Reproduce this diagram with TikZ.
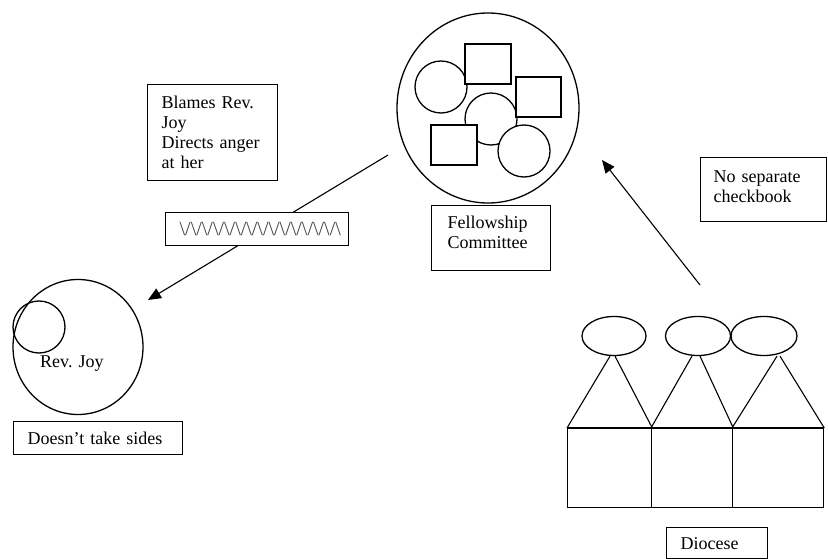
\documentclass[tikz,border=0pt]{standalone}
\usepackage{fontspec}
\setmainfont{Liberation Serif}
\usetikzlibrary{arrows.meta,shapes.geometric}
\begin{document}
\begin{tikzpicture}[x=1pt,y=-1pt,
  outline/.style={draw, line width=1.3pt},
  txt/.style={font=\fontsize{18}{20}\selectfont},
  labelbox/.style={outline, fill=white, rectangle, inner ysep=0pt, align=left, txt, anchor=north west},
  member/.style={outline, fill=white, circle, minimum size=52pt, inner sep=0pt},
  seat/.style={outline, fill=white, rectangle, inner sep=0pt},
  head/.style={outline, ellipse, inner sep=0pt, minimum height=39pt},
  cell/.style={outline, rectangle, inner sep=0pt, minimum height=79pt, anchor=north west},
  link/.style={line width=1.1pt, -{Triangle[length=13pt,width=11pt]}},
  leg/.style={line width=1.1pt},
]
\useasboundingbox (0,0) rectangle (828,559);

% Fellowship Committee: a group of members inside one circle
\node[outline, ellipse, minimum width=182pt, minimum height=190pt, inner sep=0pt] (fc) at (488,108) {};
\node[member] (m1) at (441,87) {};
\node[seat, minimum width=46pt, minimum height=40pt] (s1) at (488,64) {};
\node[member] (m2) at (491,119) {};
\node[seat, minimum width=45pt, minimum height=40pt] (s2) at (538.5,97) {};
\node[seat, minimum width=46pt, minimum height=40pt] (s3) at (454,145) {};
\node[member] (m3) at (524,151) {};
\node[labelbox, minimum width=119pt, minimum height=65pt, text width=87pt, inner xsep=16pt, text depth=32pt] (fclabel) at (431,205) {Fellowship\\Committee};

% Rev. Joy
\node[outline, ellipse, minimum width=130pt, minimum height=135pt, inner sep=0pt] (rj) at (78,347) {};
\node[outline, circle, minimum size=52pt, inner sep=0pt] (rjin) at (39,327) {};
\node[txt, anchor=base west, inner sep=0pt] (rjname) at (40,367) {Rev. Joy};
\node[labelbox, minimum width=169pt, minimum height=33pt, text width=141pt, inner xsep=14pt] (rjlabel) at (13,421) {Doesn’t take sides};

% conflict from the committee towards Rev. Joy
\coordinate (a1s) at (388,155);
\coordinate (a1e) at (148,300);
\draw[link] (a1s) -- (a1e);
\node[labelbox, minimum width=183pt, minimum height=33pt, text width=155pt, inner xsep=14pt, align=center, font=\fontsize{20}{22}\selectfont, text=black!75] (conflict) at (165,212)
  {\textbackslash/\textbackslash/\textbackslash/\textbackslash/\textbackslash/\textbackslash/\textbackslash/\textbackslash/\textbackslash/\textbackslash/\textbackslash/\textbackslash/\textbackslash/\textbackslash/\textbackslash};
\node[labelbox, minimum width=130pt, minimum height=96pt, text width=102pt, inner xsep=14pt] (blame) at (147,84) {Blames Rev.\\Joy\\Directs anger\\at her};

% Diocese
\node[head, minimum width=64pt] (e1) at (614,336) {};
\node[head, minimum width=65pt] (e2) at (698,336) {};
\node[head, minimum width=66pt] (e3) at (764,336) {};
\node[cell, minimum width=84pt] (d1) at (567,428) {};
\node[cell, minimum width=81pt] (d2) at (651,428) {};
\node[cell, minimum width=91pt] (d3) at (732,428) {};
\draw[line width=2.6pt] (d1.north west) -- (d3.north east);
\draw[leg] ([xshift=-4pt]e1.south) -- (d1.north west);
\draw[leg] ([xshift=1pt]e1.south) -- (d1.north east);
\draw[leg] ([xshift=-6pt]e2.south) -- (d2.north west);
\draw[leg] ([xshift=2pt]e2.south) -- (d2.north east);
\draw[leg] ([xshift=13pt]e3.south) -- (d3.north west);
\draw[leg] ([xshift=16pt]e3.south) -- (d3.north east);
\node[labelbox, minimum width=101pt, minimum height=31pt, text width=73pt, inner xsep=14pt] (dlabel) at (666,527) {Diocese};

% diocese towards the committee
\coordinate (a2s) at (700,285);
\coordinate (a2e) at (602,160);
\draw[link] (a2s) -- (a2e);
\node[labelbox, minimum width=126pt, minimum height=64pt, text width=100pt, inner xsep=13pt, text depth=26pt] (cheque) at (700,157) {No separate\\checkbook};
\end{tikzpicture}
\end{document}
